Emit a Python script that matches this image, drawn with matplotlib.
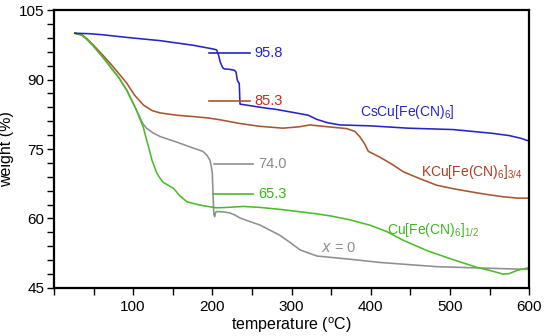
import matplotlib
matplotlib.use("Agg")
import matplotlib.pyplot as plt
from matplotlib.ticker import MultipleLocator

plt.rcParams['font.family'] = ['Liberation Sans', 'DejaVu Sans']
plt.rcParams['mathtext.default'] = 'regular'

# CsCu[Fe(CN)6] (blue)
t_cs = [26.5, 45, 60, 92, 134, 176, 201, 205.5, 208, 210, 213, 215, 222, 228, 230, 231.5,
        233, 234, 235, 250, 269, 279, 302, 321, 332, 345, 361, 400, 447, 504, 553, 575, 590, 600]
w_cs = [100.0, 99.9, 99.7, 99.1, 98.4, 97.4, 96.6, 96.4, 95.2, 93.8, 92.6, 92.3, 92.2, 92.0, 91.6, 89.9,
        89.4, 89.2, 84.7, 84.3, 83.8, 83.6, 82.9, 82.3, 81.4, 80.7, 80.2, 80.0, 79.5, 79.2, 78.4, 77.9, 77.3, 76.7]

# KCu[Fe(CN)6]3/4 (brown)
t_k = [26.5, 35, 41, 50, 60, 71, 82, 92, 102, 113, 124, 134, 155, 176, 195, 210, 235, 260, 289,
       310, 323, 340, 370, 380, 386, 392, 397, 412, 427, 441, 462, 483, 505, 525, 546, 567, 585, 600]
w_k = [100.0, 99.7, 98.9, 97.4, 95.6, 93.5, 91.3, 89.2, 86.6, 84.5, 83.3, 82.8, 82.3, 82.0, 81.7,
       81.3, 80.5, 79.9, 79.5, 79.8, 80.2, 79.9, 79.4, 78.8, 77.7, 76.2, 74.5, 73.2, 71.7, 70.1, 68.6,
       67.2, 66.4, 65.8, 65.2, 64.7, 64.4, 64.4]

# Cu[Fe(CN)6]1/2 (green)
t_cu = [26.5, 35, 41, 50, 60, 71, 82, 92, 104, 113, 117, 121, 124, 130, 134, 138, 151, 159, 168,
        184, 205, 220, 239, 260, 289, 332, 351, 374, 400, 420, 441, 472, 506, 535, 550, 567, 575, 585, 598]
w_cu = [100.0, 99.6, 98.8, 97.2, 95.2, 92.8, 90.4, 87.7, 83.5, 79.6, 77.0, 74.5, 72.5, 69.8, 68.7,
        67.8, 66.5, 64.9, 63.6, 62.9, 62.3, 62.4, 62.6, 62.4, 61.9, 61.0, 60.5, 59.7, 58.5, 57.2, 55.3,
        53.0, 51.0, 49.4, 48.8, 48.0, 48.1, 48.8, 49.3]

# x = 0 (gray)
t_x0 = [26.5, 35, 41, 50, 60, 71, 82, 92, 104, 110, 113, 117, 125, 134, 155, 176, 188, 193, 197,
        199, 200, 201, 202, 203, 204, 205, 206, 215, 222, 228, 235, 248, 260, 285, 300, 311, 332,
        374, 412, 483, 540, 600]
w_x0 = [100.0, 99.6, 98.8, 97.2, 95.2, 92.8, 90.4, 87.7, 83.5, 81.3, 80.3, 79.5, 78.5, 77.7, 76.5,
        75.2, 74.5, 73.7, 72.6, 71.0, 69.8, 65.0, 60.8, 60.4, 61.2, 61.5, 61.5, 61.4, 61.2, 60.8,
        60.1, 59.3, 58.6, 56.4, 54.6, 53.2, 51.9, 51.2, 50.5, 49.6, 49.3, 49.0]

# reference marker segments and their labels
mark_x0 = [196, 196, 202, 201]
mark_x1 = [247, 247, 252, 252]
mark_y = [95.8, 85.3, 71.7, 65.3]
mark_labels = ['95.8', '85.3', '74.0', '65.3']

c_blue = '#2424c8'
c_brown = '#a8552e'
c_green = '#4cbb2a'
c_gray = '#8f8f8f'
mark_line_colors = [c_blue, c_brown, c_gray, c_green]
mark_text_colors = ['#2222cc', '#cc2a1a', '#8a8a8a', '#33bb11']

fig = plt.figure(figsize=(5.5, 3.36), dpi=100)
ax = fig.add_axes([0.098, 0.143, 0.864, 0.827])

lw = 1.15
ax.plot(t_x0, w_x0, color=c_gray, lw=lw)
ax.plot(t_k, w_k, color=c_brown, lw=lw)
ax.plot(t_cu, w_cu, color=c_green, lw=lw)
ax.plot(t_cs, w_cs, color=c_blue, lw=lw)

for x0, x1, y, lab, lc, tc in zip(mark_x0, mark_x1, mark_y, mark_labels,
                                  mark_line_colors, mark_text_colors):
    ax.plot([x0, x1], [y, y], color=lc, lw=1.2)
    ax.text(x1 + 6, y, lab, color=tc, fontsize=10.5, va='center', ha='left')

ax.text(386, 82.9, r'CsCu[Fe(CN)$_6$]', color=c_blue, fontsize=10, va='center', ha='left')
ax.text(464, 70.0, r'KCu[Fe(CN)$_6$]$_{3/4}$', color='#b03a22', fontsize=10, va='center', ha='left')
ax.text(421, 57.5, r'Cu[Fe(CN)$_6$]$_{1/2}$', color='#3cb81e', fontsize=10, va='center', ha='left')
ax.text(337, 53.6, r'$\mathit{x}$ = 0', color=c_gray, fontsize=10.5, va='center', ha='left')

ax.set_xlim(0, 600)
ax.set_ylim(45, 105)
ax.xaxis.set_major_locator(MultipleLocator(100))
ax.xaxis.set_minor_locator(MultipleLocator(50))
ax.yaxis.set_major_locator(MultipleLocator(15))
ax.yaxis.set_minor_locator(MultipleLocator(3))
ax.set_xticks([100, 200, 300, 400, 500, 600])
ax.tick_params(which='both', direction='out', length=5, width=1, labelsize=11,
               top=False, right=False)
ax.tick_params(axis='y', pad=2)
for s in ax.spines.values():
    s.set_linewidth(1.6)

ax.set_xlabel(r'temperature ($^{o}$C)', fontsize=11.5, labelpad=1)
ax.set_ylabel('weight (%)', fontsize=11.5, labelpad=3)

fig.savefig('out.png', dpi=100)
